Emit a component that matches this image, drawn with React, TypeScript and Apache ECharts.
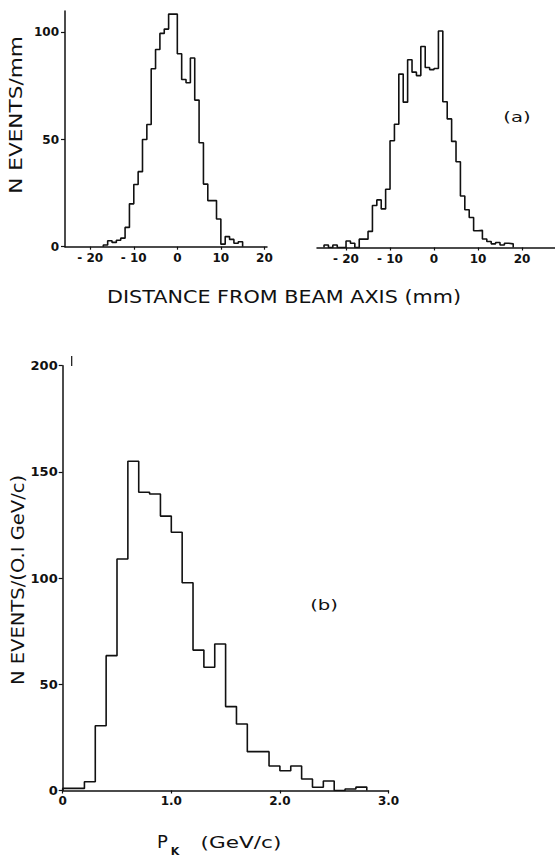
import React, { useEffect, useRef } from "react";
import * as echarts from "echarts";

// ---- data ----
// (a) left: 1 mm bins starting at -17 mm
const leftStart = -17;
const mmBinWidth = 1;
const leftCounts = [0.8, 2.8, 2, 3, 4, 9, 20, 29, 35, 50, 57, 83, 92, 99.5, 101.5, 108.5, 108.5, 90, 78, 76.5, 88, 68.4, 48.5, 29.2, 21.5, 21.5, 12.9, 1.2, 4.7, 3.4, 1.6, 2.3];
// (a) right: 1 mm bins starting at -25 mm
const rightStart = -25;
const rightCounts = [1.2, 0, 1.2, 0, 0, 3, 2, 0, 3.9, 3.9, 7.5, 19.6, 22.2, 18, 27.2, 49.8, 57.5, 80.9, 67.8, 87.6, 81.8, 80.2, 93.8, 84, 83, 83.5, 101, 68, 60, 49.5, 40, 24, 17.6, 14, 7.8, 8, 4, 2.8, 1.7, 2.3, 1.2, 2, 1.7];
// (b): 0.1 GeV/c bins starting at 0
const pkStart = 0;
const pkBinWidth = 0.1;
const pkCounts = [1, 1, 4.1, 30.5, 63.5, 109, 155, 140.4, 139.6, 129.2, 121.6, 97.8, 66.1, 58, 69, 39.5, 31.3, 18.3, 18.3, 11.5, 9.3, 11.5, 5.4, 1.5, 4.5, 0, 0.7, 1.6];

const mmTickValues = [-20, -10, 0, 10, 20];
const mmYTickValues = [0, 50, 100];

const FONT = "DejaVu Sans";
const INK = "#111";

function stepPoints(start: number, width: number, counts: number[]) {
  const pts: number[][] = [[start, 0]];
  counts.forEach((c, i) => pts.push([+(start + i * width).toFixed(4), c]));
  pts.push([+(start + counts.length * width).toFixed(4), 0]);
  return pts;
}

const mmFormatter = (v: number) => (v < 0 ? "- " + Math.abs(v) : String(v));

export default function App() {
  const ref = useRef<HTMLDivElement>(null);
  useEffect(() => {
    if (!ref.current) return;
    const chart = echarts.init(ref.current, null, { renderer: "svg" });
    const axisLine = { show: true, onZero: false, lineStyle: { color: INK, width: 1.5 } };
    const labelBase = { color: INK, fontFamily: FONT, fontSize: 12, fontWeight: "bold" };
    const histSeries = (xi: number, data: number[][]) => ({
      type: "line",
      xAxisIndex: xi,
      yAxisIndex: xi,
      data,
      step: "end",
      symbol: "none",
      lineStyle: { color: INK, width: 1.6 },
      silent: true,
    });
    chart.setOption({
      animation: false,
      backgroundColor: "#fff",
      grid: [
        { left: 65, top: 10.9, width: 202, height: 235.8 },
        { left: 317, top: 11.7, width: 238, height: 235.8 },
        { left: 62.7, top: 365.7, width: 325.8, height: 424.8 },
      ],
      xAxis: [
        {
          gridIndex: 0, type: "value", min: -25.8, max: 20.6,
          splitLine: { show: false }, axisLine,
          axisTick: { show: true, length: 3, customValues: mmTickValues, lineStyle: { color: INK, width: 1.2 } },
          axisLabel: { ...labelBase, customValues: mmTickValues, formatter: mmFormatter, margin: 5 },
        },
        {
          gridIndex: 1, type: "value", min: -26.6, max: 27.5,
          splitLine: { show: false }, axisLine,
          axisTick: { show: true, length: 3, customValues: mmTickValues, lineStyle: { color: INK, width: 1.2 } },
          axisLabel: { ...labelBase, customValues: mmTickValues, formatter: mmFormatter, margin: 5 },
        },
        {
          gridIndex: 2, type: "value", min: 0, max: 3, interval: 1,
          splitLine: { show: false }, axisLine,
          axisTick: { show: true, length: 3, lineStyle: { color: INK, width: 1.2 } },
          axisLabel: { ...labelBase, formatter: (v: number) => (v === 0 ? "0" : v.toFixed(1)), margin: 4 },
        },
      ],
      yAxis: [
        {
          gridIndex: 0, type: "value", min: 0, max: 110,
          splitLine: { show: false }, axisLine,
          axisTick: { show: true, length: 4, customValues: mmYTickValues, lineStyle: { color: INK, width: 1.2 } },
          axisLabel: { ...labelBase, customValues: mmYTickValues, margin: 6 },
        },
        { gridIndex: 1, type: "value", min: 0, max: 110, show: false },
        {
          gridIndex: 2, type: "value", min: 0, max: 200, interval: 50,
          splitLine: { show: false }, axisLine,
          axisTick: { show: true, length: 4, lineStyle: { color: INK, width: 1.2 } },
          axisLabel: { ...labelBase, fontSize: 13, margin: 5 },
        },
      ],
      series: [
        histSeries(0, stepPoints(leftStart, mmBinWidth, leftCounts)),
        histSeries(1, stepPoints(rightStart, mmBinWidth, rightCounts)),
        histSeries(2, stepPoints(pkStart, pkBinWidth, pkCounts)),
      ],
      graphic: [
        {
          type: "text", x: 16, y: 115, rotation: Math.PI / 2, scaleX: 1.27,
          style: { text: "N EVENTS/mm", fill: INK, font: `17px "${FONT}"`, align: "center", verticalAlign: "middle" },
        },
        {
          type: "text", x: 284, y: 296.5, scaleX: 1.22,
          style: { text: "DISTANCE FROM BEAM AXIS (mm)", fill: INK, font: `17px "${FONT}"`, align: "center", verticalAlign: "middle" },
        },
        {
          type: "text", x: 517, y: 117, scaleX: 1.4,
          style: { text: "(a)", fill: INK, font: `14px "${FONT}"`, align: "center", verticalAlign: "middle" },
        },
        {
          type: "text", x: 18, y: 580, rotation: Math.PI / 2, scaleX: 1.15,
          style: { text: "N EVENTS/(O.I GeV/c)", fill: INK, font: `17px "${FONT}"`, align: "center", verticalAlign: "middle" },
        },
        {
          type: "text", x: 324, y: 605, scaleX: 1.4,
          style: { text: "(b)", fill: INK, font: `14px "${FONT}"`, align: "center", verticalAlign: "middle" },
        },
        {
          type: "text", x: 162.5, y: 841.5,
          style: { text: "P", fill: INK, font: `18px "${FONT}"`, align: "center", verticalAlign: "middle" },
        },
        {
          type: "text", x: 175, y: 851,
          style: { text: "K", fill: INK, font: `bold 11px "${FONT}"`, align: "center", verticalAlign: "middle" },
        },
        {
          type: "text", x: 241, y: 842, scaleX: 1.35,
          style: { text: "(GeV/c)", fill: INK, font: `16px "${FONT}"`, align: "center", verticalAlign: "middle" },
        },
        {
          type: "line", shape: { x1: 71.7, y1: 356, x2: 71.7, y2: 366 },
          style: { stroke: INK, lineWidth: 1.2 },
        },
      ],
    });
    return () => chart.dispose();
  }, []);
  return <div ref={ref} style={{ position: "absolute", left: 0, top: 0, width: 555, height: 859 }} />;
}
